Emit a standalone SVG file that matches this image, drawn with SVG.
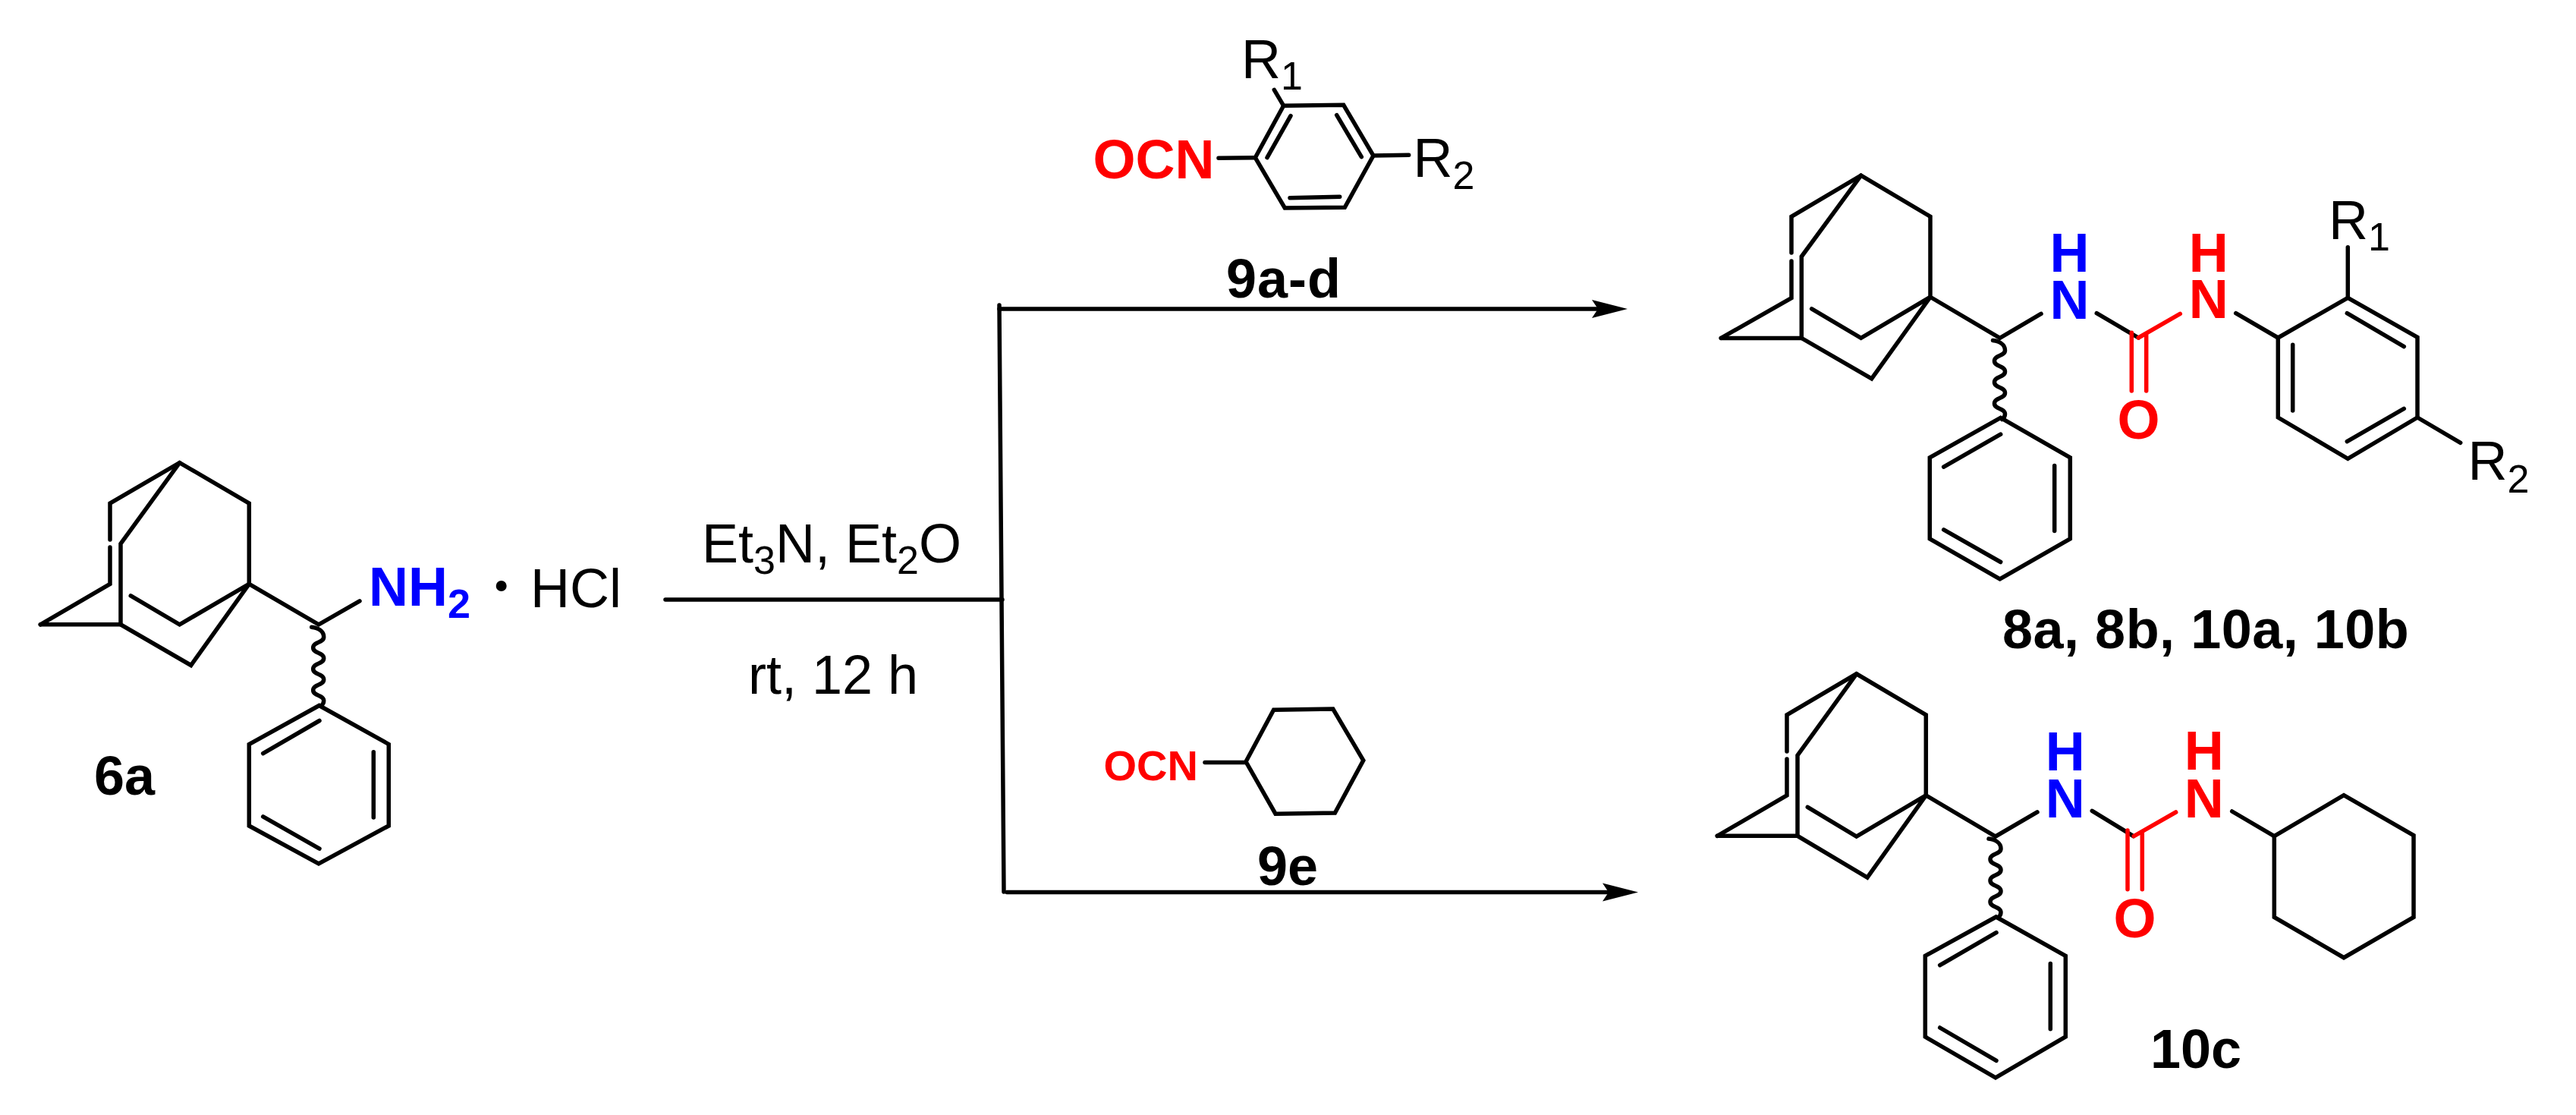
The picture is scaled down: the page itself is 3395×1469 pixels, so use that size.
<svg xmlns="http://www.w3.org/2000/svg" width="3395" height="1469" viewBox="0 0 3395 1469">
<style>
text{font-family:"Liberation Sans",Arial,sans-serif;font-size:72px;fill:#000}
.b{font-weight:bold}
.blue{fill:#00f}
.red{fill:#f00}
.s{font-size:52px}
.n{font-size:54px}
.sm{font-size:56px}
path,line,polyline,polygon{fill:none;stroke:#000;stroke-width:5.500;stroke-linecap:round;stroke-linejoin:miter}
.rs{stroke:#f00}
.head{fill:#000;stroke:none}
</style>
<defs>
<path id="wave" d="M-9 0c8 1 16 5 16 13c0 8-14 6-14 14c0 8 14 6 14 14c0 8-14 6-14 14c0 8 14 6 14 14c0 8-14 6-14 14c0 8 14 6 14 14c0 3-1 5-4 7"/>
<marker id="arrow" markerUnits="userSpaceOnUse" markerWidth="50" markerHeight="28" refX="8" refY="14" orient="auto">
<path class="head" d="M0 2L47 14L0 26L8 14z"/>
</marker>
</defs>
<rect width="3395" height="1469" fill="#fff"/>

<g id="connectors">
<line x1="877" y1="790" x2="1321" y2="790"/>
<line x1="1317" y1="402" x2="1323" y2="1175" stroke-width="4"/>
<line x1="1317" y1="407" x2="2106" y2="407" marker-end="url(#arrow)"/>
<line x1="1327" y1="1175.500" x2="2120" y2="1175.500" marker-end="url(#arrow)"/>
</g>

<g id="compound-6a">
<polyline points="53.300,822.800 159,822.800 251.700,876.500 328.300,769.400 236.700,822.800 172.300,784.900"/>
<polyline points="145,711 145,663 236.700,609.600 328.300,663 328.300,769.400 420,822.800 474,791.800"/>
<polyline points="53.300,822.800 145,769.400 145,721"/>
<polyline points="236.700,609.600 159,716.400 159,822.800"/>
<use href="#wave" x="419.700" y="826.200"/>
<polygon points="420.700,929.500 512.300,980.500 512.300,1088 420,1137.900 328.300,1088 328.300,980.500"/>
<line x1="346.700" y1="992.600" x2="421" y2="949.500"/>
<line x1="492.300" y1="990.800" x2="492.300" y2="1076.900"/>
<line x1="346.700" y1="1075.900" x2="421" y2="1118.200"/>
<text class="b blue" x="486" y="798">NH<tspan class="n" dy="16">2</tspan></text>
<circle cx="660.700" cy="772" r="7" fill="#000"/>
<text x="699" y="800">HCl</text>
<text class="b" x="124" y="1047">6a</text>
</g>

<g id="reagents-conditions">
<text x="925" y="741">Et<tspan class="s" dy="15">3</tspan><tspan dy="-15">N, Et</tspan><tspan class="s" dy="15">2</tspan><tspan dy="-15">O</tspan></text>
<text x="986" y="914">rt, 12 h</text>
</g>

<g id="reagent-9a-d">
<polygon points="1691.700,139.300 1770.700,138.300 1810,205 1772.300,273.300 1693.300,274 1654.300,207.700"/>
<line x1="1701" y1="152.700" x2="1670" y2="207.700"/>
<line x1="1761.700" y1="151.700" x2="1794.300" y2="206.700"/>
<line x1="1700" y1="260.700" x2="1765.700" y2="259.300"/>
<line x1="1679.300" y1="118.300" x2="1691.700" y2="139.300"/>
<line x1="1606" y1="208.300" x2="1654.300" y2="207.700"/>
<line x1="1810" y1="205" x2="1856.700" y2="204.300"/>
<text x="1636" y="103">R<tspan class="s" dy="15">1</tspan></text>
<text x="1862.500" y="232.700">R<tspan class="s" dy="16">2</tspan></text>
<text class="b red" x="1440.500" y="234.500">OCN</text>
<text class="b" x="1616" y="392" letter-spacing="1">9a-d</text>
</g>

<g id="reagent-9e">
<polygon points="1642,1003.500 1678.600,935.200 1756.800,934 1796.800,1001.800 1759.400,1071 1681,1072.200"/>
<line x1="1588" y1="1004.600" x2="1642" y2="1004.600"/>
<text class="b red sm" x="1454.500" y="1028">OCN</text>
<text class="b" x="1657" y="1166">9e</text>
</g>

<g id="product-8-10">
<polyline points="2268.300,445.400 2374.300,445.400 2466.700,498.800 2544,391.300 2452.700,445.400 2387.700,406.800"/>
<polyline points="2361,333 2361,285.300 2452.700,231.200 2544,285.300 2544,391.300 2635.700,445.400 2690,413.400"/>
<polyline points="2268.300,445.400 2361,392.700 2361,344"/>
<polyline points="2452.700,231.200 2374.300,338 2374.300,445.400"/>
<use href="#wave" x="2635.500" y="448.500"/>
<polygon points="2636.700,550.400 2728.300,602.800 2728.300,709.900 2635.700,762.900 2543.300,709.900 2543.300,602.800"/>
<line x1="2561.700" y1="615.200" x2="2636.700" y2="572.100"/>
<line x1="2707.700" y1="613.400" x2="2707.700" y2="699.500"/>
<line x1="2561.700" y1="697.800" x2="2636.700" y2="740.500"/>
<text class="b blue"><tspan x="2701.500" y="357.600">H</tspan><tspan x="2701.500" y="419.600">N</tspan></text>
<line x1="2763.300" y1="412.700" x2="2818.300" y2="445"/>
<line class="rs" x1="2818.300" y1="445" x2="2873.300" y2="413.300"/>
<line class="rs" x1="2809.300" y1="438.300" x2="2809.300" y2="515"/>
<line class="rs" x1="2828.700" y1="441.700" x2="2828.700" y2="515"/>
<text class="b red" x="2790.500" y="578">O</text>
<text class="b red"><tspan x="2884.800" y="357.700">H</tspan><tspan x="2884.800" y="419.300">N</tspan></text>
<line x1="2946.700" y1="412.700" x2="3002.300" y2="445"/>
<polygon points="3002.300,445 3094.300,392.300 3186,444.300 3186,550 3094.300,604.300 3002.300,550"/>
<line x1="3093.300" y1="412.700" x2="3168.300" y2="456.700"/>
<line x1="3021.700" y1="454.300" x2="3021.700" y2="541"/>
<line x1="3093.300" y1="581.700" x2="3168.300" y2="538.300"/>
<line x1="3094.300" y1="392.300" x2="3094.300" y2="325.700"/>
<line x1="3186" y1="550" x2="3242.700" y2="583.300"/>
<text x="3069" y="315">R<tspan class="s" dy="14.500">1</tspan></text>
<text x="3252.400" y="632">R<tspan class="s" dy="17">2</tspan></text>
<text class="b" x="2639" y="854" letter-spacing=".5">8a, 8b, 10a, 10b</text>
</g>

<g id="product-10c">
<polyline points="2263.300,1101.300 2369,1101.300 2461,1156 2538.300,1047.900 2446.700,1102 2382.300,1063.400"/>
<polyline points="2355,990 2355,941.800 2446.700,887.800 2538.300,941.800 2538.300,1047.900 2630,1102 2685,1069.900"/>
<polyline points="2263.300,1101.300 2355,1047.900 2355,1000"/>
<polyline points="2446.700,887.800 2369,995.200 2369,1101.300"/>
<use href="#wave" x="2630" y="1105"/>
<polygon points="2630.700,1208 2722.300,1259.300 2722.300,1366 2630,1419.800 2537.300,1366 2537.300,1259.300"/>
<line x1="2556.700" y1="1271.700" x2="2631" y2="1228.700"/>
<line x1="2702.300" y1="1269.600" x2="2702.300" y2="1355.700"/>
<line x1="2556.700" y1="1354" x2="2631" y2="1397.400"/>
<text class="b blue"><tspan x="2695.800" y="1014.800">H</tspan><tspan x="2695.800" y="1076.800">N</tspan></text>
<line x1="2757.300" y1="1068.300" x2="2811.700" y2="1101.700"/>
<line class="rs" x1="2812.300" y1="1101.700" x2="2867.700" y2="1070"/>
<line class="rs" x1="2804" y1="1094" x2="2804" y2="1171.700"/>
<line class="rs" x1="2823.300" y1="1097" x2="2823.300" y2="1171.700"/>
<text class="b red" x="2785.500" y="1235">O</text>
<text class="b red"><tspan x="2878.800" y="1014.300">H</tspan><tspan x="2878.800" y="1076.700">N</tspan></text>
<line x1="2941.700" y1="1069" x2="2997.300" y2="1101.700"/>
<polygon points="2997.300,1101.700 3089,1047.700 3181,1100.700 3181,1208.300 3089,1261.700 2997.300,1208.300"/>
<text class="b" x="2834" y="1406.500">10c</text>
</g>
</svg>
